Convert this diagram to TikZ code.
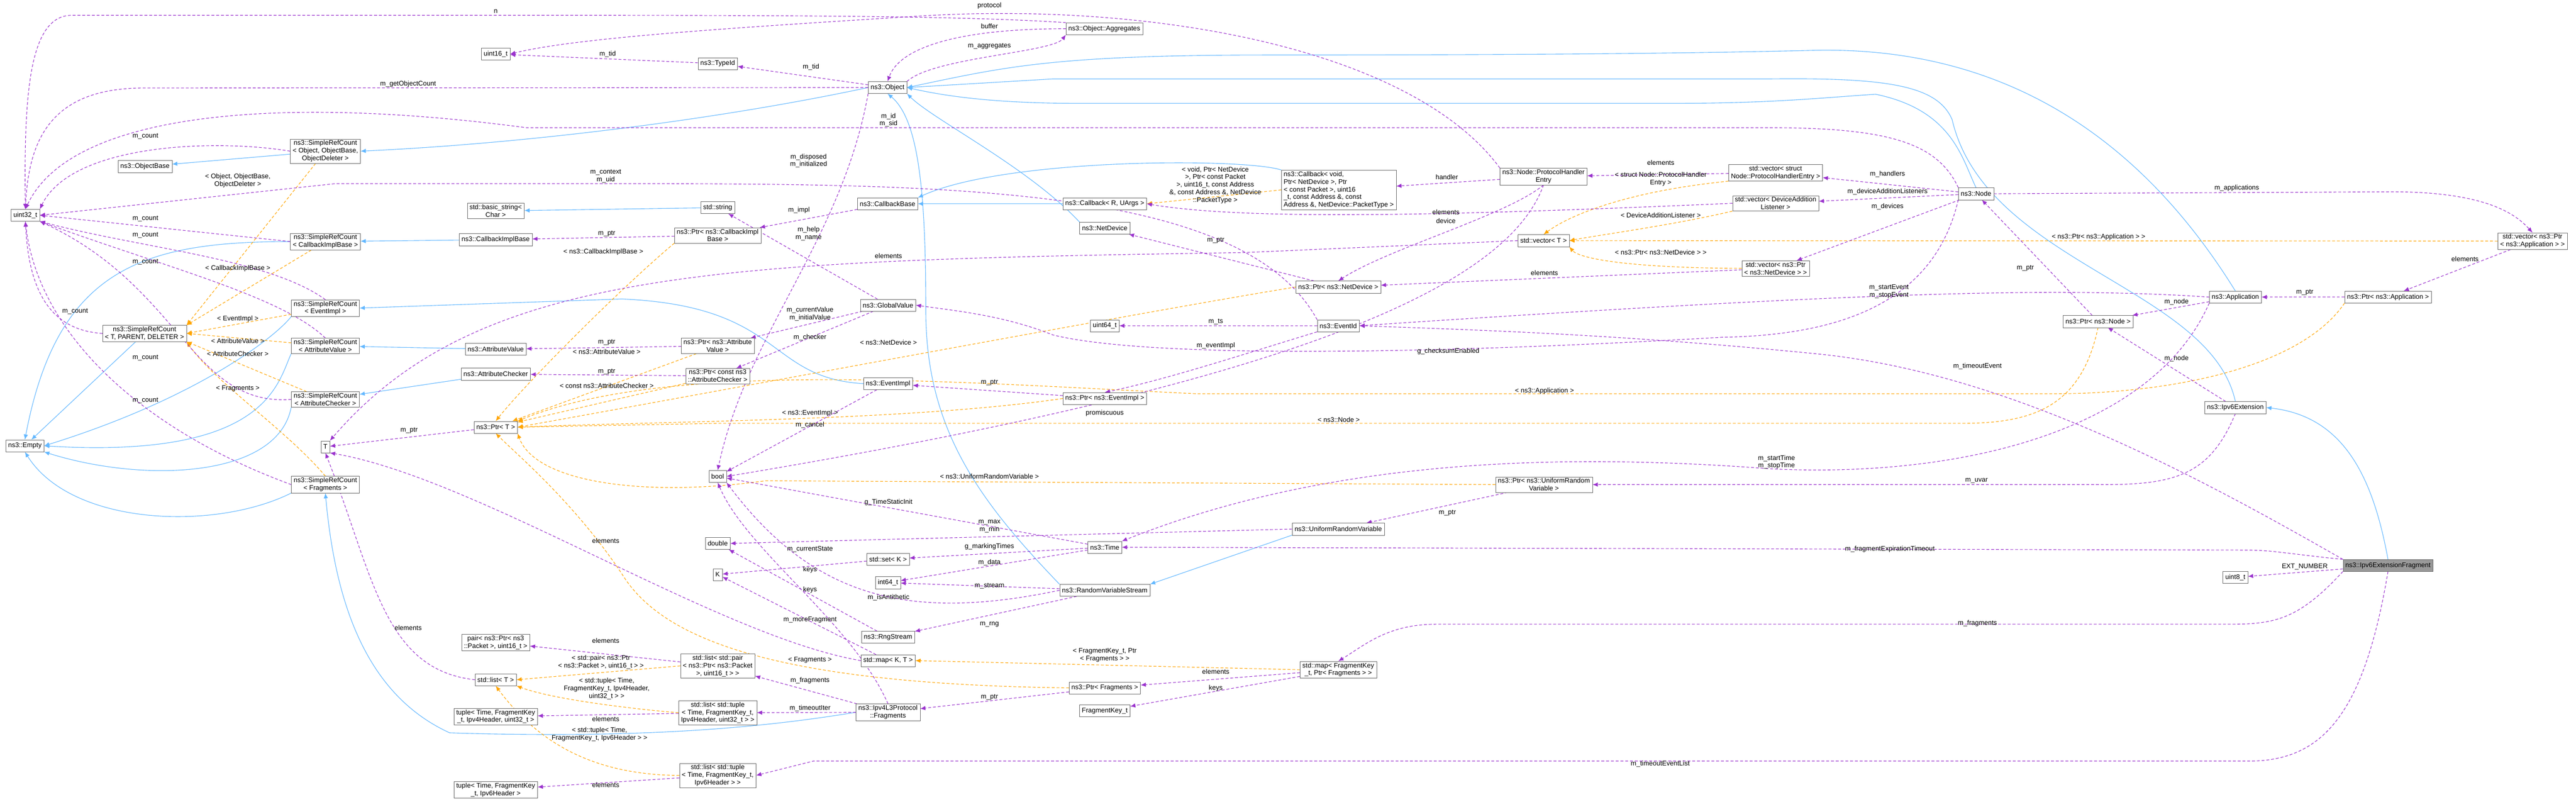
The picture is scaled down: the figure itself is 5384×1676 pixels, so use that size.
\documentclass[tikz,border=0pt]{standalone}
\usepackage{fontspec}
\setmainfont{Liberation Sans}
\usetikzlibrary{arrows.meta,backgrounds}
\definecolor{pur}{RGB}{154,50,205}
\definecolor{ora}{RGB}{255,165,0}
\definecolor{blu}{RGB}{99,184,255}
\newcommand\fsz{\fontsize{14}{16}\selectfont}
\tikzset{
 box/.style={draw=black!60, fill=white, font=\fsz, align=center, inner xsep=5pt, inner ysep=3pt, minimum height=25pt},
 pu/.style={draw=pur, line width=1.2pt, dash pattern=on 6pt off 4pt, -{Latex[length=11pt,width=9pt]}},
 orn/.style={draw=ora, line width=1.2pt, dash pattern=on 6pt off 4pt, -{Latex[length=11pt,width=9pt]}},
 bl/.style={draw=blu, line width=1.2pt, -{Latex[length=11pt,width=9pt]}},
 lbl/.style={font=\fsz, align=center, inner sep=1pt}
}
\begin{document}
\begin{tikzpicture}[x=1pt,y=-1pt]
\useasboundingbox (0,0) rectangle (5384,1676);
% nodes
\node[box] (u16) at (1036,113) {uint16\_t};
\node[box] (srcobj) at (680,316) {ns3::SimpleRefCount\\< Object, ObjectBase,\\ ObjectDeleter >};
\node[box] (objbase) at (303,348) {ns3::ObjectBase};
\node[box] (u32) at (53,450) {uint32\_t};
\node[box] (bstr) at (1036,441) {std::basic\_string<\\ Char >};
\node[box] (srccb) at (680,505) {ns3::SimpleRefCount\\< CallbackImplBase >};
\node[box] (cbimpl) at (1036,501) {ns3::CallbackImplBase};
\node[box] (typeid) at (1500,133) {ns3::TypeId};
\node[box] (obj) at (1855,183) {ns3::Object};
\node[box] (agg) at (2308,60) {ns3::Object::Aggregates};
\node[box] (cbb) at (1855,426) {ns3::CallbackBase};
\node[box] (cbr) at (2309,426) {ns3::Callback< R, UArgs >};
\node[box] (str) at (1500,434) {std::string};
\node[box] (pcb) at (1500,492) {ns3::Ptr< ns3::CallbackImpl\\ Base >};
\node[box] (netdev) at (2309,477) {ns3::NetDevice};
\node[box,align=left] (cbv) at (2798,397) {ns3::Callback< void,\\ Ptr< NetDevice >, Ptr\\< const Packet >, uint16\\\_t, const Address \&, const\\ Address \&, NetDevice::PacketType >};
\node[box] (phe) at (3226,369) {ns3::Node::ProtocolHandler\\ Entry};
\node[box] (vphe) at (3711,361) {std::vector< struct\\ Node::ProtocolHandlerEntry >};
\node[box] (vdal) at (3711,425) {std::vector< DeviceAddition\\ Listener >};
\node[box] (vt) at (3226,503) {std::vector< T >};
\node[box] (node) at (4130,405) {ns3::Node};
\node[box] (vpa) at (5293,504) {std::vector< ns3::Ptr\\< ns3::Application > >};
\node[box] (srcev) at (680,644) {ns3::SimpleRefCount\\< EventImpl >};
\node[box] (srctpd) at (302,697) {ns3::SimpleRefCount\\< T, PARENT, DELETER >};
\node[box] (srcav) at (680,723) {ns3::SimpleRefCount\\< AttributeValue >};
\node[box] (av) at (1036,730) {ns3::AttributeValue};
\node[box] (ac) at (1036,782) {ns3::AttributeChecker};
\node[box] (srcac) at (680,835) {ns3::SimpleRefCount\\< AttributeChecker >};
\node[box] (ptrt) at (1036,893) {ns3::Ptr< T >};
\node[box] (T) at (680,934) {T};
\node[box] (empty) at (52,932) {ns3::Empty};
\node[box] (srcfr) at (680,1013) {ns3::SimpleRefCount\\< Fragments >};
\node[box] (gv) at (1856,638) {ns3::GlobalValue};
\node[box] (u64) at (2309,681) {uint64\_t};
\node[box] (pav) at (1500,723) {ns3::Ptr< ns3::Attribute\\ Value >};
\node[box] (pac) at (1500,786) {ns3::Ptr< const ns3\\ ::AttributeChecker >};
\node[box] (evimpl) at (1856,802) {ns3::EventImpl};
\node[box] (pev) at (2309,833) {ns3::Ptr< ns3::EventImpl >};
\node[box] (bool) at (1500,996) {bool};
\node[box] (pnd) at (2797,600) {ns3::Ptr< ns3::NetDevice >};
\node[box] (vpnd) at (3711,561) {std::vector< ns3::Ptr\\< ns3::NetDevice > >};
\node[box] (evid) at (2797,681) {ns3::EventId};
\node[box] (purv) at (3227,1013) {ns3::Ptr< ns3::UniformRandom\\ Variable >};
\node[box] (urv) at (2797,1106) {ns3::UniformRandomVariable};
\node[box] (app) at (4672,621) {ns3::Application};
\node[box] (papp) at (4991,621) {ns3::Ptr< ns3::Application >};
\node[box] (pnode) at (4385,672) {ns3::Ptr< ns3::Node >};
\node[box] (ipx) at (4672,852) {ns3::Ipv6Extension};
\node[box] (pair) at (1036,1343) {pair< ns3::Ptr< ns3\\ ::Packet >, uint16\_t >};
\node[box] (listt) at (1036,1421) {std::list< T >};
\node[box] (tup4) at (1036,1498) {tuple< Time, FragmentKey\\ \_t, Ipv4Header, uint32\_t >};
\node[box] (tup6) at (1036,1651) {tuple< Time, FragmentKey\\ \_t, Ipv6Header >};
\node[box] (dbl) at (1500,1136) {double};
\node[box] (K) at (1500,1201) {K};
\node[box] (setk) at (1856,1169) {std::set< K >};
\node[box] (i64) at (1856,1218) {int64\_t};
\node[box] (time) at (2309,1144) {ns3::Time};
\node[box] (rvs) at (2309,1234) {ns3::RandomVariableStream};
\node[box] (rng) at (1856,1332) {ns3::RngStream};
\node[box] (mapkt) at (1856,1381) {std::map< K, T >};
\node[box] (lpair) at (1500,1392) {std::list< std::pair\\< ns3::Ptr< ns3::Packet\\ >, uint16\_t > >};
\node[box] (pfr) at (2309,1438) {ns3::Ptr< Fragments >};
\node[box] (fk) at (2309,1486) {FragmentKey\_t};
\node[box] (frags) at (1856,1489) {ns3::Ipv4L3Protocol\\ ::Fragments};
\node[box] (ltup4) at (1500,1490) {std::list< std::tuple\\< Time, FragmentKey\_t,\\ Ipv4Header, uint32\_t > >};
\node[box] (ltup6) at (1500,1621) {std::list< std::tuple\\< Time, FragmentKey\_t,\\ Ipv6Header > >};
\node[box] (mapfk) at (2797,1400) {std::map< FragmentKey\\ \_t, Ptr< Fragments > >};
\node[box,fill=black!40] (ipxf) at (4991,1182) {ns3::Ipv6ExtensionFragment};
\node[box] (u8) at (4672,1207) {uint8\_t};
\begin{scope}[on background layer]
\fill[white] (0,0) rectangle (5384,1676);
% blue inheritance
\draw[bl] (obj.west) .. controls (1500,250) and (1100,300) .. (srcobj.east);
\draw[bl] (srcobj) -- (objbase);
\draw[bl] (srctpd) -- (empty);
\draw[bl] (srccb.west) .. controls (300,505) and (120,560) .. (empty.north);
\draw[bl] (cbimpl) -- (srccb);
\draw[bl] (str) -- (bstr);
\draw[bl] (cbr) -- (cbb);
\draw[bl] (cbv.north west) .. controls (2600,330) and (2100,330) .. (cbb.north east);
\draw[bl] (netdev.north west) .. controls (2150,350) and (1950,250) .. (obj.south east);
\draw[bl] (rvs.north west) .. controls (2050,1050) and (1935,900) .. (1935,650) .. controls (1935,400) and (1920,250) .. (obj.south);
\draw[bl] (urv.south west) -- (rvs.north east);
\draw[bl] (evimpl.west) .. controls (1600,790) and (1640,640) .. (1300,625) -- (srcev.east);
\draw[bl] (av) -- (srcav);
\draw[bl] (ac) -- (srcac);
\draw[bl] (frags.west) .. controls (1600,1520) and (1350,1545) .. (940,1532) .. controls (760,1450) and (700,1250) .. (srcfr.south);
\draw[bl] (srcev.south west) .. controls (580,700) and (420,830) .. (empty.east);
\draw[bl] (srcav.south west) .. controls (580,800) and (560,960) .. (empty.east);
\draw[bl] (srcac.south west) .. controls (580,1000) and (300,1010) .. (empty.south east);
\draw[bl] (srcfr.south west) .. controls (450,1110) and (150,1100) .. (empty.south);
\draw[bl] (app.north) .. controls (4450,250) and (4150,100) .. (3800,105) .. controls (3600,110) and (3300,115) .. (2650,115) .. controls (2200,115) and (2100,140) .. (obj.east);
\draw[bl] (ipx.north) .. controls (4620,600) and (4150,550) .. (4080,250) .. controls (4050,180) and (3950,162) .. (3700,165) -- (2200,165) -- (obj.east);
\draw[bl] (node.north) .. controls (4100,330) and (4080,230) .. (3920,197) .. controls (3800,205) and (3700,216) .. (3500,216) -- (2250,216) .. controls (2050,216) and (1950,195) .. (obj.east);
\draw[bl] (ipxf.north) .. controls (4960,1000) and (4900,870) .. (ipx.east);
% orange template
\draw[orn] (srcobj) -- (srctpd.north east);
\draw[orn] (srccb) -- (srctpd.north east);
\draw[orn] (srcev) -- (srctpd.east);
\draw[orn] (srcav) -- (srctpd.east);
\draw[orn] (srcac) -- (srctpd.south east);
\draw[orn] (srcfr.north) .. controls (600,900) and (450,800) .. (srctpd.south east);
\draw[orn] (pcb.south west) .. controls (1300,600) and (1100,800) .. (ptrt.north);
\draw[orn] (pav) -- (ptrt);
\draw[orn] (pac) -- (ptrt);
\draw[orn] (pnd.west) .. controls (2400,650) and (1600,800) .. (ptrt.east);
\draw[orn] (pev.west) .. controls (1900,880) and (1400,880) .. (ptrt.east);
\draw[orn] (pnode.south) .. controls (4350,850) and (4250,885) .. (4100,885) -- (1500,885) -- (ptrt.east);
\draw[orn] (papp.south west) .. controls (4800,780) and (4500,823) .. (4300,823) -- (2500,823) .. controls (2000,800) and (1400,750) .. (ptrt.north east);
\draw[orn] (purv.west) -- (1600,1005) .. controls (1350,1040) and (1120,1010) .. (ptrt.south east);
\draw[orn] (pfr.west) .. controls (1600,1430) and (1380,1330) .. (1300,1200) .. controls (1200,1050) and (1080,950) .. (ptrt.south);
\draw[orn] (cbv.west) -- (cbr.east);
\draw[orn] (vphe.south west) .. controls (3400,400) and (3280,450) .. (vt.north);
\draw[orn] (vdal.south west) .. controls (3500,470) and (3350,490) .. (vt.east);
\draw[orn] (vpnd.west) .. controls (3400,560) and (3300,540) .. (vt.south east);
\draw[orn] (vpa.west) -- (vt.east);
\draw[orn] (mapfk.west) -- (mapkt.east);
\draw[orn] (lpair.west) -- (listt.east);
\draw[orn] (ltup4.west) .. controls (1300,1480) and (1150,1460) .. (listt.south east);
\draw[orn] (ltup6.west) .. controls (1250,1620) and (1130,1560) .. (listt.south);
% purple usage
\draw[pu] (agg.north west) .. controls (2000,32) and (1600,32) .. (1000,32) -- (150,32) .. controls (60,32) and (50,200) .. (u32.north);
\draw[pu] (phe.north west) .. controls (2950,100) and (2400,0) .. (1900,35) .. controls (1500,60) and (1200,80) .. (u16.east);
\draw[pu] (agg.west) .. controls (2000,60) and (1880,100) .. (obj.north);
\draw[pu] (obj.north east) .. controls (1950,120) and (2200,110) .. (agg.south west);
\draw[pu] (typeid) -- (u16);
\draw[pu] (obj) -- (typeid);
\draw[pu] (obj.west) -- (300,184) .. controls (100,184) and (60,300) .. (u32.north);
\draw[pu] (node.north west) .. controls (4050,300) and (3950,267) .. (3700,267) -- (1100,267) .. controls (600,200) and (150,230) .. (u32.north);
\draw[pu] (srcobj.west) .. controls (450,290) and (150,300) .. (u32.north east);
\draw[pu] (srccb.west) -- (u32.east);
\draw[pu] (srcev.north) .. controls (560,540) and (300,520) .. (u32.south east);
\draw[pu] (srcav.north) .. controls (590,620) and (350,560) .. (u32.south east);
\draw[pu] (srctpd.west) .. controls (100,690) and (60,600) .. (u32.south);
\draw[pu] (srcac.west) .. controls (400,850) and (380,600) .. (u32.south east);
\draw[pu] (srcfr.west) .. controls (300,900) and (80,700) .. (u32.south);
\draw[pu] (evid.north west) .. controls (2600,390) and (2000,384) .. (1300,384) -- (700,384) -- (u32.east);
\draw[pu] (pcb) -- (cbimpl);
\draw[pu] (cbb) -- (pcb);
\draw[pu] (gv) -- (str);
\draw[pu] (obj.south west) .. controls (1760,500) and (1560,700) .. (bool.north);
\draw[pu] (vt.west) -- (2600,528) .. controls (1500,545) and (1000,560) .. (T.north east);
\draw[pu] (vdal.west) .. controls (3000,452) and (2600,460) .. (cbr.east);
\draw[pu] (phe.south) .. controls (3150,450) and (2900,520) .. (pnd.north);
\draw[pu] (phe.south) .. controls (3150,600) and (2700,800) .. (bool.east);
\draw[pu] (phe) -- (cbv);
\draw[pu] (vphe) -- (phe);
\draw[pu] (node) -- (vphe);
\draw[pu] (node) -- (vdal);
\draw[pu] (node) -- (vpnd);
\draw[pu] (node.east) -- (5000,401) .. controls (5200,401) and (5260,450) .. (vpa.north);
\draw[pu] (vpa) -- (papp);
\draw[pu] (papp) -- (app);
\draw[pu] (app) -- (pnode);
\draw[pu] (ipx) -- (pnode);
\draw[pu] (pnode) -- (node);
\draw[pu] (app.west) .. controls (4300,600) and (3900,610) .. (evid.east);
\draw[pu] (ipxf.north west) .. controls (4600,1000) and (4200,780) .. (3800,740) .. controls (3400,700) and (3100,690) .. (evid.east);
\draw[pu] (node.south west) .. controls (4050,600) and (3900,700) .. (3600,705) .. controls (3000,740) and (2400,750) .. (2200,700) .. controls (2100,660) and (2000,650) .. (gv.east);
\draw[pu] (pnd) -- (netdev);
\draw[pu] (vpnd) -- (pnd);
\draw[pu] (evid) -- (u64);
\draw[pu] (evid.south west) .. controls (2600,740) and (2450,790) .. (pev.north);
\draw[pu] (pev) -- (evimpl);
\draw[pu] (gv) -- (pav);
\draw[pu] (gv) -- (pac);
\draw[pu] (pav) -- (av);
\draw[pu] (pac) -- (ac);
\draw[pu] (ptrt) -- (T);
\draw[pu] (evimpl) -- (bool);
\draw[pu] (time) -- (bool);
\draw[pu] (rvs.west) .. controls (1900,1300) and (1700,1250) .. (bool.south east);
\draw[pu] (frags.north) .. controls (1780,1300) and (1560,1150) .. (bool.south);
\draw[pu] (urv.west) -- (dbl.east);
\draw[pu] (rng) -- (dbl);
\draw[pu] (time) -- (setk);
\draw[pu] (setk) -- (K);
\draw[pu] (mapkt) -- (K);
\draw[pu] (time) -- (i64);
\draw[pu] (rvs) -- (i64);
\draw[pu] (rvs) -- (rng);
\draw[pu] (app.south west) .. controls (4500,900) and (4100,1000) .. (3700,980) .. controls (3300,950) and (2800,950) .. (time.north east);
\draw[pu] (pfr) -- (frags);
\draw[pu] (mapfk) -- (pfr);
\draw[pu] (mapfk) -- (fk);
\draw[pu] (ipxf.south west) .. controls (4800,1300) and (4750,1305) .. (4650,1305) -- (3000,1305) .. controls (2900,1305) and (2850,1350) .. (mapfk.north);
\draw[pu] (frags) -- (lpair);
\draw[pu] (frags) -- (ltup4);
\draw[pu] (ipxf.south) .. controls (4940,1500) and (4850,1591) .. (4700,1591) -- (1700,1591) -- (ltup6.east);
\draw[pu] (ipxf.north west) .. controls (4800,1160) and (4750,1150) .. (4700,1150) -- (time.east);
\draw[pu] (ipxf) -- (u8);
\draw[pu] (ipx.south) .. controls (4620,990) and (4550,1013) .. (4400,1013) -- (purv.east);
\draw[pu] (purv) -- (urv);
\draw[pu] (listt.west) .. controls (800,1400) and (780,1200) .. (T.south);
\draw[pu] (mapkt.west) .. controls (1500,1330) and (1000,1000) .. (T.south east);
\draw[pu] (lpair) -- (pair);
\draw[pu] (ltup4) -- (tup4);
\draw[pu] (ltup6) -- (tup6);
\end{scope}
% labels
\foreach \x/\y/\t in {
1036/24/n, 2068/12/protocol, 2068/55/buffer, 2068/96/m\_aggregates, 1270/113/m\_tid, 1695/140/m\_tid,
853/176/m\_getObjectCount, 304/285/m\_count, 304/457/m\_count, 304/492/m\_count, 304/548/m\_count,
1268/488/m\_ptr, 1670/440/m\_impl, 3024/370/handler, 3471/340/elements, 3945/364/m\_handlers,
3945/401/m\_deviceAdditionListeners, 3945/432/m\_devices, 3022/444/elements, 3022/462/device,
1857/535/elements, 4675/393/m\_applications, 5152/542/elements, 4233/561/m\_ptr, 4817/611/m\_ptr,
4549/631/m\_node, 4549/749/m\_node, 4133/766/m\_timeoutEvent, 4131/1005/m\_uvar, 157/651/m\_count,
304/748/m\_count, 304/837/m\_count, 1268/716/m\_ptr, 1268/777/m\_ptr, 855/900/m\_ptr, 1693/705/m\_checker,
2541/673/m\_ts, 2541/723/m\_eventImpl, 2068/800/m\_ptr, 2309/864/promiscuous, 1693/888/m\_cancel,
1857/1050/g\_TimeStaticInit, 3228/570/elements, 3027/735/g\_checksumEnabled, 3025/1072/m\_ptr,
2541/503/m\_ptr, 853/1312/elements, 1266/1339/elements, 1266/1503/elements, 1266/1641/elements,
1266/1130/elements, 1693/1148/m\_currentState, 2068/1143/g\_markingTimes, 1693/1191/keys, 2068/1176/m\_data,
1693/1233/keys, 2068/1225/m\_stream, 1857/1249/m\_isAntithetic, 2068/1305/m\_rng, 1693/1296/m\_moreFragment,
2541/1404/elements, 1693/1423/m\_fragments, 2541/1439/keys, 2068/1458/m\_ptr, 1693/1481/m\_timeoutIter,
3950/1148/m\_fragmentExpirationTimeout, 3470/1597/m\_timeoutEventList, 4817/1185/EXT\_NUMBER, 4133/1303/m\_fragments,
1268/735/< ns3::AttributeValue >, 1268/806/< const ns3::AttributeChecker >, 1857/716/< ns3::NetDevice >,
1693/864/< ns3::EventImpl >, 2068/996/< ns3::UniformRandomVariable >, 3228/817/< ns3::Application >,
2798/877/< ns3::Node >, 497/667/< EventImpl >, 497/713/< AttributeValue >, 497/740/< AttributeChecker >,
497/812/< Fragments >, 497/561/< CallbackImplBase >, 1261/527/< ns3::CallbackImplBase >,
3471/450/< DeviceAdditionListener >, 3471/528/< ns3::Ptr< ns3::NetDevice > >,
4386/496/< ns3::Ptr< ns3::Application > >, 1693/1380/< Fragments >}
 \node[lbl] at (\x,\y) {\t};
\node[lbl] (l1) at (1857,251) {m\_id\\m\_sid};
\node[lbl] (l2) at (497,378) {< Object, ObjectBase,\\ ObjectDeleter >};
\node[lbl] (l3) at (1266,368) {m\_context\\m\_uid};
\node[lbl] (l4) at (1690,336) {m\_disposed\\m\_initialized};
\node[lbl] (l5) at (1690,488) {m\_help\\m\_name};
\node[lbl] (l6) at (2540,387) {< void, Ptr< NetDevice\\ >, Ptr< const Packet\\ >, uint16\_t, const Address\\ \&, const Address \&, NetDevice\\ ::PacketType >};
\node[lbl] (l7) at (3471,374) {< struct Node::ProtocolHandler\\ Entry >};
\node[lbl] (l8) at (1693,656) {m\_currentValue\\m\_initialValue};
\node[lbl] (l9) at (2068,1100) {m\_max\\m\_min};
\node[lbl] (l10) at (3948,609) {m\_startEvent\\m\_stopEvent};
\node[lbl] (l11) at (3713,966) {m\_startTime\\m\_stopTime};
\node[lbl] (l12) at (1256,1384) {< std::pair< ns3::Ptr\\< ns3::Packet >, uint16\_t > >};
\node[lbl] (l13) at (1268,1440) {< std::tuple< Time,\\ FragmentKey\_t, Ipv4Header,\\ uint32\_t > >};
\node[lbl] (l14) at (1253,1535) {< std::tuple< Time,\\ FragmentKey\_t, Ipv6Header > >};
\node[lbl] (l15) at (2309,1370) {< FragmentKey\_t, Ptr\\< Fragments > >};
\end{tikzpicture}
\end{document}
